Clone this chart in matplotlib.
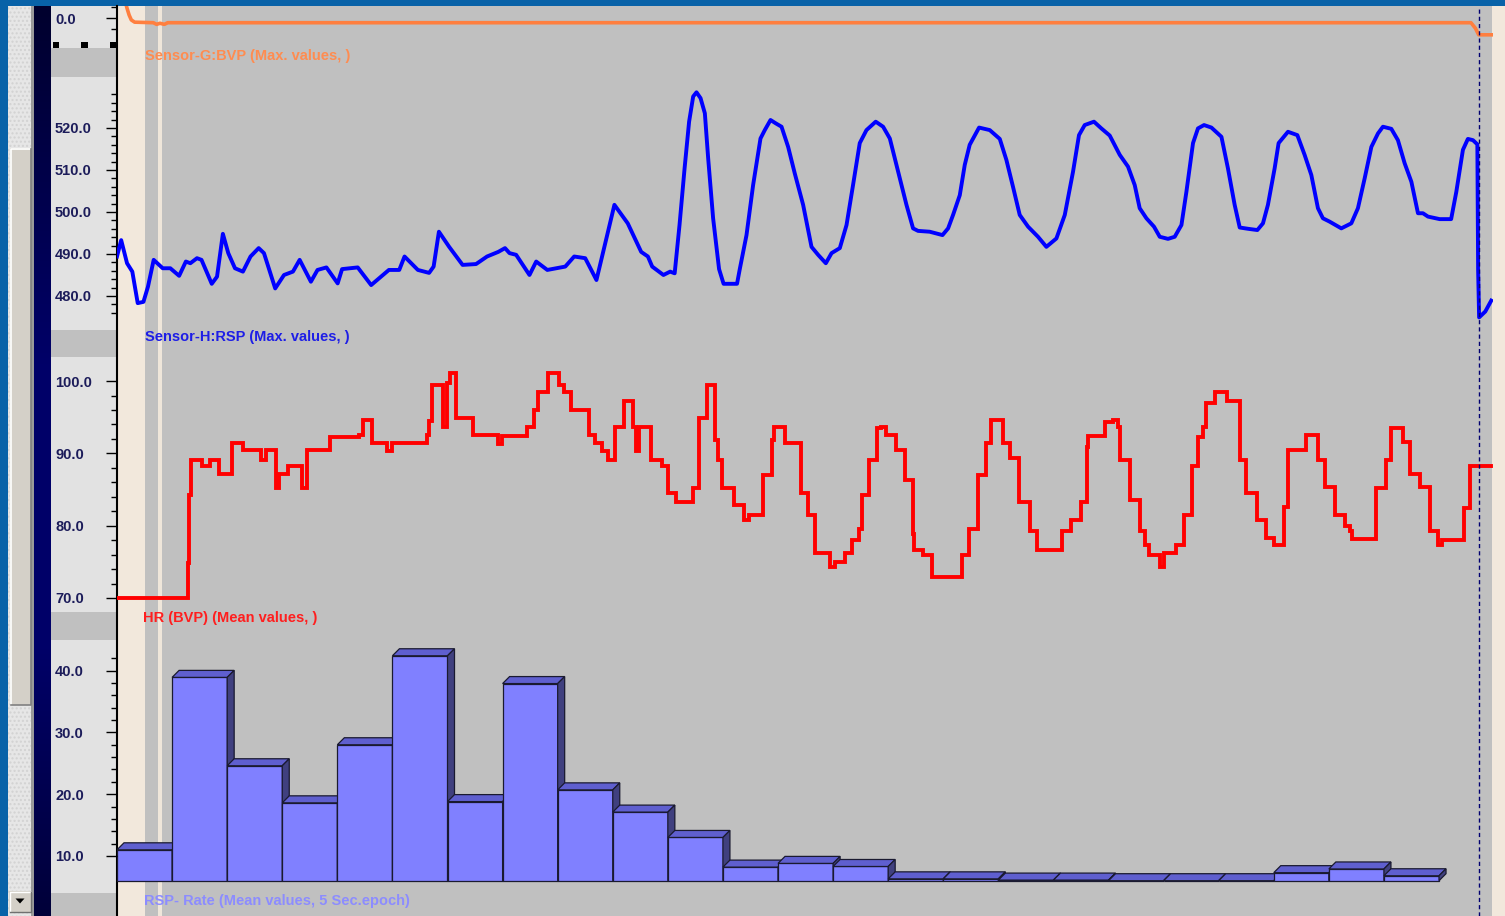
import numpy as np
import matplotlib
matplotlib.use("Agg")
from matplotlib import pyplot as plt
from matplotlib.patches import Rectangle, Polygon
from matplotlib.colors import LinearSegmentedColormap
from matplotlib.ticker import FixedLocator, FormatStrFormatter

plt.rcParams['font.family'] = ['Liberation Sans', 'DejaVu Sans']

# ---------------- data (time in seconds) ----------------
T_END = 124.9
CURSOR_T = 123.6
EPOCH = 5.0
RATE_BASE = 6.0
# RSP rate, mean per 5 s epoch
RATE_V = [11.0, 38.9, 24.6, 18.6, 28.0, 42.4, 18.8, 37.9, 20.7, 17.1,
          13.0, 8.2, 8.8, 8.3, 6.3, 6.3, 6.1, 6.1, 6.0, 6.0,
          6.0, 7.3, 7.9, 6.8]

# Sensor-G:BVP max values
BVP_T = [0.7, 0.9, 1.1, 1.3, 1.6, 3.3, 3.6, 3.9, 4.3, 4.6,
         122.9, 123.3, 123.6, 124.9]
BVP_V = [0.35, 0.19, 0.06, -0.03, -0.07, -0.08, -0.11, -0.09, -0.11, -0.08,
         -0.08, -0.18, -0.30, -0.30]

# Sensor-H:RSP max values
RSP_T = [0.0, 0.38, 0.91, 1.39, 1.88, 2.40, 2.81, 3.33, 3.82, 4.15,
         4.84, 5.64, 6.25, 6.66, 7.26, 7.67, 8.60, 9.08, 9.61, 10.10,
         10.71, 11.43, 12.12, 12.86, 13.34, 14.36, 15.16, 15.97, 16.58, 17.60,
         18.20, 19.01, 20.03, 20.43, 21.85, 23.07, 24.68, 25.62, 26.10, 27.31,
         28.33, 28.74, 29.22, 30.15, 31.37, 32.59, 33.59, 34.61, 35.22, 35.63,
         36.23, 37.44, 38.05, 39.06, 40.69, 41.50, 42.50, 43.52, 45.15, 46.36,
         47.58, 48.19, 48.58, 49.60, 50.21, 50.62,
         51.06, 51.52, 51.93, 52.30, 52.60, 52.97, 53.36, 53.66, 54.11, 54.65,
         55.06, 56.28, 56.53, 57.14, 57.74, 58.41, 58.80, 59.32, 59.80, 60.32,
         60.92, 61.52, 62.28, 63.04, 63.64, 64.34, 64.86, 65.61, 66.22, 66.81,
         67.42, 68.03, 68.87, 69.54, 70.15, 70.90, 71.66, 72.26, 72.71, 73.77,
         74.93, 75.44, 75.89, 76.50, 76.95, 77.40, 78.25, 79.22, 80.13, 80.73,
         81.33, 81.94, 82.70, 83.60, 84.36, 85.27, 86.03, 86.78, 87.32, 87.84,
         88.68, 89.35, 90.11, 91.02, 91.77, 92.38, 92.83, 93.44, 94.13, 94.65,
         95.40, 96.01, 96.62, 97.07, 97.67, 98.12, 98.67, 99.34, 100.25, 100.84,
         101.45, 101.91, 102.66, 103.51, 104.02, 104.47, 105.08, 105.44, 106.29, 107.14,
         107.80, 108.41, 109.01, 109.46, 110.07, 111.13, 112.04, 112.64, 113.25, 113.86,
         114.46, 114.91, 115.67, 116.27, 116.88, 117.49, 118.09, 118.54, 119.00, 120.06,
         121.10, 121.57, 122.17, 122.62, 123.08, 123.48, 123.50, 123.55, 123.64, 124.20,
         124.74]
RSP_V = [489.4, 493.3, 487.8, 485.8, 478.3, 478.6, 482.2, 488.6, 487.4, 486.6,
         486.6, 484.8, 488.2, 487.8, 489.0, 488.6, 482.9, 484.6, 494.8, 490.2,
         486.6, 485.8, 489.4, 491.4, 490.2, 481.8, 485.0, 485.8, 488.6, 483.4,
         486.2, 486.8, 483.0, 486.4, 486.8, 482.6, 486.2, 486.2, 489.4, 486.2,
         485.5, 487.0, 495.3, 491.7, 487.4, 487.6, 489.4, 490.5, 491.4, 490.2,
         489.8, 485.0, 488.2, 486.2, 487.0, 489.4, 489.0, 483.8, 501.7, 497.3,
         490.5, 489.4, 487.0, 485.0, 485.8, 485.4,
         496.9, 510.4, 521.5, 527.5, 528.5, 527.1, 523.5, 512.8, 498.5, 486.4,
         482.9, 482.9, 486.4, 494.5, 506.4, 517.5, 519.5, 521.9, 521.1, 520.3,
         515.5, 509.2, 501.7, 491.7, 489.8, 487.8, 490.2, 491.4, 496.9, 506.4,
         516.4, 519.5, 521.5, 520.3, 517.5, 509.6, 501.7, 496.1, 495.5, 495.3,
         494.5, 496.1, 499.3, 504.0, 511.2, 516.0, 520.1, 519.5, 517.4, 512.4,
         506.0, 499.3, 496.5, 494.1, 491.7, 493.7, 499.3, 509.6, 518.3, 520.7,
         521.5, 519.9, 518.2, 513.6, 510.8, 506.4, 500.9, 498.5, 496.5, 494.1,
         493.6, 494.1, 496.9, 504.8, 516.4, 519.9, 520.7, 520.1, 517.9, 510.4,
         501.7, 496.3, 496.0, 495.7, 497.3, 501.7, 510.4, 516.4, 519.1, 518.3,
         513.6, 508.8, 500.9, 498.5, 497.7, 496.1, 497.3, 500.9, 508.0, 515.5,
         518.7, 520.3, 519.8, 517.1, 511.6, 507.2, 499.7, 499.7, 498.9, 498.3,
         498.3, 504.8, 514.8, 517.4, 517.1, 516.1, 506.4, 486.2, 474.9, 476.3,
         478.9]

# HR (BVP) mean values, stepped (value held until the next time)
HR_T = [0.0, 6.44, 6.49, 6.53, 6.72, 7.44, 7.71, 8.08, 8.40, 8.97,
        9.23, 10.28, 10.40, 11.23, 11.42, 12.73, 13.11, 13.48, 14.25, 14.43,
        14.73, 15.36, 15.55, 16.50, 16.76, 17.06, 17.24, 18.95, 19.33, 21.96,
        22.32, 22.89, 23.16, 24.22, 24.52, 24.97, 27.60, 28.17, 28.36, 28.55,
        29.31, 29.56, 29.76, 29.94, 30.25, 30.54, 30.81, 32.05, 32.30, 34.19,
        34.57, 34.94, 36.83, 37.21, 37.57, 37.84, 38.22, 38.75, 39.09, 39.73,
        40.11, 40.60, 41.16, 41.23, 42.48, 42.86, 43.19, 43.42, 43.98, 44.56,
        44.92, 45.23, 45.68, 45.98, 46.62, 46.82, 47.10, 47.37, 48.31, 48.50,
        49.26, 49.45, 49.82, 50.00, 50.57, 50.76, 51.89, 52.27, 52.64, 52.83,
        53.39, 53.58, 54.07, 54.26, 54.53, 54.90, 55.84, 56.03, 56.60, 56.90,
        57.35, 58.53, 58.66, 59.19, 59.41, 59.63, 60.43, 60.61, 61.84, 62.07,
        62.73, 63.39, 64.28, 64.72, 65.16, 65.83, 66.05, 66.71, 67.38, 67.60,
        68.27, 68.78, 69.02, 69.37, 69.81, 70.48, 70.70, 71.14, 71.50, 72.02,
        72.25, 72.38, 72.91, 73.13, 73.79, 74.02, 76.45, 76.68, 76.95, 77.34,
        78.00, 78.13, 78.67, 78.88, 79.33, 80.08, 80.44, 80.88, 81.10, 81.68,
        81.85, 82.65, 82.87, 83.31, 83.54, 85.53, 85.75, 86.19, 86.63, 87.21,
        87.52, 87.96, 88.05, 88.18, 89.29, 89.65, 90.40, 90.83, 91.06, 91.72,
        91.94, 92.61, 92.83, 93.28, 93.72, 94.38, 94.69, 95.05, 95.49, 96.15,
        96.60, 96.81, 97.26, 97.61, 98.06, 98.14, 98.58, 98.81, 99.38, 99.69,
        100.35, 100.71, 101.69, 101.91, 102.21, 102.48, 103.23, 103.46, 104.12, 104.34,
        105.00, 105.67, 105.89, 106.33, 107.44, 107.89, 108.68, 108.98, 109.43, 109.66,
        110.32, 110.54, 111.20, 111.43, 111.95, 112.09, 114.08, 114.30, 114.87, 115.18,
        115.63, 116.38, 116.73, 117.06, 117.39, 117.98, 118.28, 118.86, 119.17, 119.61,
        119.92, 120.27, 121.96, 122.27, 122.58, 122.84, 124.70]
HR_V = [70.0, 70.0, 74.8, 84.2, 89.1, 89.1, 88.2, 88.2, 89.1, 89.1,
        87.2, 87.2, 91.4, 91.4, 90.5, 90.5, 89.1, 90.5, 90.5, 85.2,
        87.2, 87.2, 88.2, 88.2, 85.2, 85.2, 90.5, 90.5, 92.3, 92.5,
        94.6, 94.6, 91.4, 91.4, 90.3, 91.4, 91.4, 92.5, 94.5, 99.5,
        99.5, 93.7, 93.7, 99.7, 101.1, 101.1, 94.9, 94.9, 92.5, 92.5,
        91.3, 92.4, 92.4, 93.7, 93.7, 96.0, 98.5, 98.5, 101.1, 101.1,
        99.5, 98.5, 98.5, 96.0, 96.0, 92.5, 92.5, 91.4, 90.3, 89.1,
        89.1, 93.7, 93.7, 97.2, 97.2, 93.7, 90.3, 93.7, 93.7, 89.1,
        89.1, 88.2, 88.2, 84.5, 84.5, 83.3, 83.3, 85.2, 85.2, 94.9,
        94.9, 99.5, 99.5, 91.8, 89.1, 85.2, 85.2, 82.9, 82.9, 80.8,
        81.5, 81.5, 87.0, 87.0, 91.9, 93.7, 93.7, 91.4, 91.4, 84.5,
        81.5, 76.2, 76.2, 74.3, 75.0, 75.0, 76.2, 78.0, 79.6, 84.2,
        89.1, 89.1, 93.5, 93.7, 92.5, 92.5, 90.5, 90.5, 86.3, 86.3,
        78.9, 76.6, 76.6, 76.0, 76.0, 72.9, 72.9, 76.0, 76.0, 79.6,
        79.6, 87.0, 87.0, 91.4, 94.6, 94.6, 91.4, 91.4, 89.3, 89.3,
        83.3, 83.3, 79.2, 79.2, 76.6, 76.6, 79.2, 79.2, 80.8, 80.8,
        83.3, 83.3, 90.9, 92.4, 92.4, 94.4, 94.6, 93.7, 89.1, 89.1,
        83.6, 83.6, 79.2, 77.3, 76.0, 76.0, 74.3, 76.2, 76.2, 77.3,
        77.3, 81.5, 81.5, 88.2, 88.2, 92.3, 93.7, 97.0, 97.0, 98.5,
        98.5, 97.2, 97.2, 89.1, 89.1, 84.5, 84.5, 80.8, 80.8, 78.3,
        77.3, 77.3, 82.6, 90.5, 90.5, 92.5, 92.5, 89.1, 89.1, 85.4,
        85.4, 81.5, 81.5, 79.9, 79.2, 78.1, 78.1, 85.2, 85.2, 89.1,
        93.5, 93.5, 91.6, 91.6, 87.2, 87.2, 85.4, 85.4, 79.2, 79.2,
        77.3, 78.0, 78.0, 82.4, 82.4, 88.2, 88.2]

LABELS = ['Sensor-G:BVP (Max. values, )', 'Sensor-H:RSP (Max. values, )',
          'HR (BVP) (Mean values, )', 'RSP- Rate (Mean values, 5 Sec.epoch)']

# ---------------- figure / window chrome ----------------
W, H = 1505, 916
fig = plt.figure(figsize=(W / 100, H / 100), dpi=100)


def frac(x0, y0, x1, y1):
    return [x0 / W, 1 - y1 / H, (x1 - x0) / W, (y1 - y0) / H]


bg = fig.add_axes([0, 0, 1, 1])
bg.set_xlim(0, W)
bg.set_ylim(H, 0)
bg.axis('off')


def box(x0, y0, x1, y1, color, **kw):
    bg.add_patch(Rectangle((x0, y0), x1 - x0, y1 - y0, facecolor=color,
                           edgecolor='none', **kw))


BLUE_FRAME = '#0862A8'
PANEL_GRAY = '#C0C0C0'
LABEL_LIGHT = '#E2E2E2'
BEIGE = '#F2E8DC'

box(0, 0, W, H, BLUE_FRAME)
# scrollbar
bg.add_patch(Rectangle((8, 6), 24, H - 6, facecolor='#E6E6E6', edgecolor='#D2D2D2',
                       hatch='....', linewidth=0))
box(31, 6, 34, H, '#9A9A9A')
box(10, 148, 31, 705, '#D4D0C8')
bg.plot([10.5, 10.5, 30], [705, 148.5, 148.5], color='white', lw=1.2)
bg.plot([30.5, 30.5, 10.5], [148.5, 705, 705], color='#808080', lw=1.2)
box(9, 891, 31, 912, '#D4D0C8')
bg.plot([9.5, 9.5, 30.5], [912, 891.5, 891.5], color='white', lw=1.0)
bg.plot([30.5, 30.5, 9.5], [891.5, 912, 912], color='#707070', lw=1.0)
bg.add_patch(Polygon([(15.5, 898.5), (24.5, 898.5), (20, 903.5)], closed=True,
                     facecolor='black', edgecolor='none'))
# navy strip
navy = LinearSegmentedColormap.from_list('navy', ['#00002E', '#000068'])
prof = np.concatenate([np.linspace(0, 1, 40), np.ones(30), np.linspace(1, 0.2, 30)])
bg.imshow(prof[:, None], cmap=navy, aspect='auto', extent=(34, 50.5, H, 6),
          interpolation='bilinear', zorder=1)
# label column with separating bands
box(50.5, 6, 117, H, LABEL_LIGHT)
for y0, y1 in [(48, 77), (330, 357), (612, 640), (893, H)]:
    box(50.5, y0, 117, y1, PANEL_GRAY)
for xs in [52.5, 81, 109.5]:
    box(xs, 42, xs + 6.5, 48, 'black', zorder=3)
# plot area
box(117, 6, 1492, H, PANEL_GRAY)
box(117, 6, 145, H, BEIGE)
box(158, 6, 162, H, '#EFE6DA')
box(1492, 6, W, H, BEIGE)
bg.plot([117, 117], [6, H], color='black', lw=1.5, zorder=5)

# ---------------- data panels ----------------
PLOT_L, PLOT_R = 117, 1493


def panel(y0, y1, ylim, majors, minors):
    ax = fig.add_axes(frac(PLOT_L, y0, PLOT_R, y1))
    ax.set_facecolor('none')
    ax.set_xlim(0, T_END)
    ax.set_ylim(*ylim)
    for s in ax.spines.values():
        s.set_visible(False)
    ax.set_xticks([])
    ax.yaxis.set_major_locator(FixedLocator(majors))
    ax.yaxis.set_minor_locator(FixedLocator(minors))
    ax.yaxis.set_major_formatter(FormatStrFormatter('%.1f'))
    ax.tick_params(axis='y', which='major', direction='out', length=7.9,
                   width=1.0, color='black', pad=36.7, labelsize=10.5,
                   labelcolor='#1C1C5A')
    ax.tick_params(axis='y', which='minor', direction='out', length=4.3,
                   width=1.0, color='black')
    for lab in ax.get_yticklabels():
        lab.set_horizontalalignment('left')
        lab.set_fontweight('bold')
    return ax


ax_bvp = panel(6, 48, (-0.54, 0.224), [0.0], [-0.2, 0.2])
ax_rsp = panel(77, 330, (471.9, 532.14), [480, 490, 500, 510, 520],
               np.arange(476, 529, 2))
ax_hr = panel(357, 612, (68.06, 103.33), [70, 80, 90, 100],
              np.arange(70, 101, 2))
ax_rate = panel(640, 893, (4.01, 44.95), [10, 20, 30, 40],
                np.arange(10, 43, 2))

ax_bvp.plot(BVP_T, BVP_V, color='#FF7F3F', lw=2.6)
ax_rsp.plot(RSP_T, RSP_V, color='#0000FF', lw=2.8)
ax_hr.plot(HR_T, HR_V, color='#FF0000', lw=2.8, drawstyle='steps-post',
           solid_joinstyle='miter')

# 3-D looking epoch bars
px_t = (PLOT_R - PLOT_L) / T_END
px_v = (893 - 640) / (44.95 - 4.01)
dx, dy = 7 / px_t, 7 / px_v
edge = '#1A1A30'
for i, h in enumerate(RATE_V):
    x0, x1 = i * EPOCH, (i + 1) * EPOCH
    ax_rate.add_patch(Rectangle((x0, RATE_BASE), EPOCH, h - RATE_BASE,
                                facecolor='#8080FF', edgecolor=edge, lw=0.9))
    ax_rate.add_patch(Polygon([(x0, h), (x1, h), (x1 + dx, h + dy), (x0 + dx, h + dy)],
                              closed=True, facecolor='#5F5FCF', edgecolor=edge, lw=0.9))
    ax_rate.add_patch(Polygon([(x1, RATE_BASE), (x1, h), (x1 + dx, h + dy),
                               (x1 + dx, RATE_BASE + dy)],
                              closed=True, facecolor='#40407F', edgecolor=edge, lw=0.9))

# time cursor spanning all panels
ax_cur = fig.add_axes(frac(PLOT_L, 6, PLOT_R, H))
ax_cur.set_xlim(0, T_END)
ax_cur.axis('off')
ax_cur.axvline(CURSOR_T, color='#000070', lw=1.0, dashes=(3, 2.2))

# channel captions
for (x, y), text, col in zip([(145, 56), (145, 337), (143, 618), (144, 901)], LABELS,
                             ['#FF8C50', '#1E1EE6', '#FF1E1E', '#8C8CFF']):
    fig.text(x / W, 1 - y / H, text, color=col, fontsize=10.5, fontweight='bold',
             ha='left', va='center')

fig.savefig('out.png', dpi=100)
